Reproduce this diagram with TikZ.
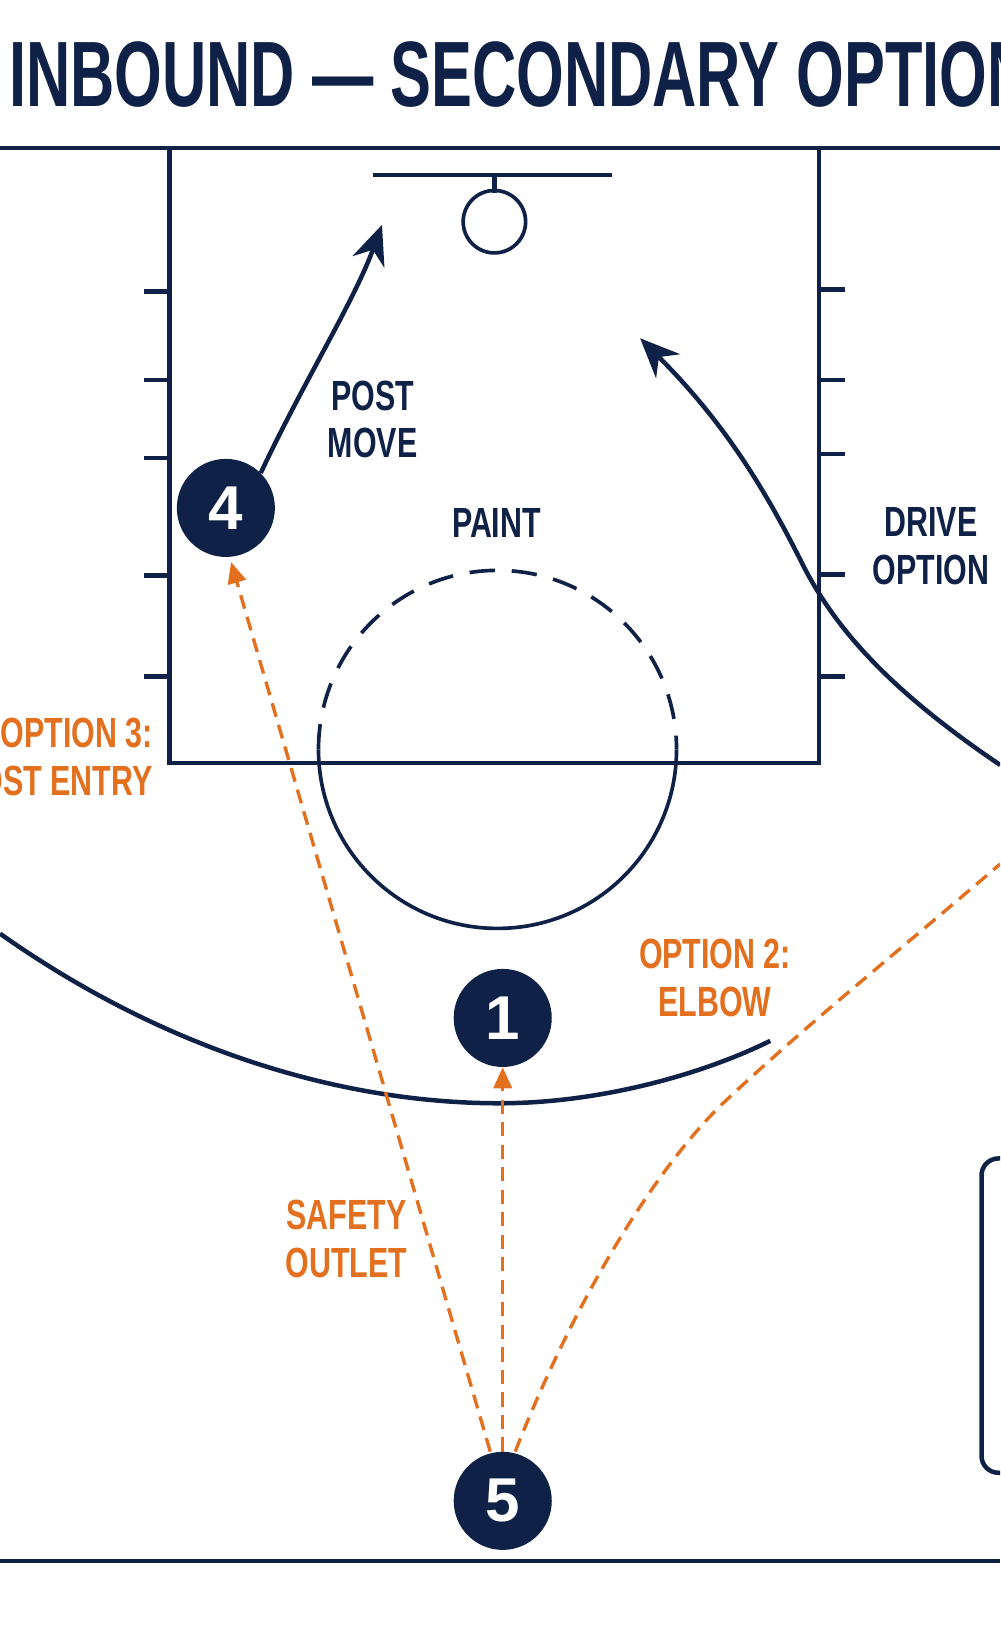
\documentclass[tikz,border=0pt]{standalone}
\usepackage{fontspec}
\setmainfont{Liberation Sans}
\usetikzlibrary{arrows.meta}
\definecolor{navy}{HTML}{0F2147}
\definecolor{play}{HTML}{E2701E}
\begin{document}
\begin{tikzpicture}[x=0.026cm, y=-0.026cm,
    court/.style={navy, line width=3.2pt},
    player/.style={circle, fill=navy, minimum size=2.45cm, text=white, font=\bfseries\fontsize{44}{44}\selectfont},
    lbl/.style={navy, font=\bfseries\fontsize{30}{34}\selectfont, align=center, xscale=0.72},
    olbl/.style={play, font=\bfseries\fontsize{30}{34}\selectfont, align=center, xscale=0.72},
    pass/.style={play, line width=2.4pt, dash pattern=on 10pt off 6pt},
    cut/.style={navy, line width=3.2pt, -{Stealth[length=28pt, width=24pt]}}]
    \useasboundingbox (0,0) rectangle (961,1568);
    \clip (0,0) rectangle (961,1568);

    \node[navy, font=\bfseries\fontsize{66}{66}\selectfont, xscale=0.66] (title) at (500,72) {INBOUND — SECONDARY OPTION};

    % court
    \draw[court] (0,142) -- (961,142);
    \draw[court] (0,1500) -- (961,1500);
    \draw[court] (163,142) rectangle (787,733);
    \draw[court] (358,168) -- (588,168);
    \draw[court] (475,168) -- (475,185);
    \draw[court, line width=2.6pt] (475,213) circle (30);
    \foreach \y in {280,365,440,553,650}
        \draw[court] (138,\y) -- (163,\y);
    \foreach \y in {278,365,436,552,650}
        \draw[court] (787,\y) -- (812,\y);
    \draw[court, line width=2.6pt, dash pattern=on 18pt off 12pt] (306,720) arc[start angle=180, end angle=360, radius=172];
    \draw[court, line width=2.6pt] (306,720) arc[start angle=180, end angle=0, radius=172];
    \draw[court] (0,897) .. controls (160,1010) and (330,1060) .. (480,1060) .. controls (580,1060) and (680,1030) .. (740,1000);
    \draw[court, rounded corners=12pt] (990,1113) -- (943,1113) -- (943,1415) -- (990,1415);

    % players
    \node[player] (p4) at (217,488) {4};
    \node[player] (p1) at (483,978) {1};
    \node[player] (p5) at (483,1442) {5};
    \coordinate (rim) at (367,216);
    \coordinate (lane) at (615,325);
    \coordinate (wing) at (961,735);
    \coordinate (corner) at (961,830);

    % movement
    \draw[cut] (p4.north east) .. controls (290,370) and (340,290) .. (rim);
    \draw[cut] (wing) .. controls (850,660) and (800,600) .. (770,540) .. controls (730,460) and (690,400) .. (lane);

    % passes
    \draw[pass, -{Triangle[length=15pt, width=13pt]}] (p5.north) ++(-12,0) -- (222,540);
    \draw[pass, -{Triangle[length=15pt, width=13pt]}] (p5.north) -- (p1.south);
    \draw[pass] (p5.north) ++(12,0) .. controls (560,1230) and (640,1110) .. (700,1055) .. controls (780,980) and (880,900) .. (corner);

    % labels
    \node[lbl] (post) at (358,403) {POST\\MOVE};
    \node[lbl] (paint) at (477,502) {PAINT};
    \node[lbl, anchor=west] (drive) at (835,525) {DRIVE\\OPTION};
    \node[olbl, anchor=east, align=right] (opt3) at (150,727) {OPTION 3:\\POST ENTRY};
    \node[olbl] (opt2) at (687,940) {OPTION 2:\\ELBOW};
    \node[olbl] (safe) at (333,1190) {SAFETY\\OUTLET};
\end{tikzpicture}
\end{document}
